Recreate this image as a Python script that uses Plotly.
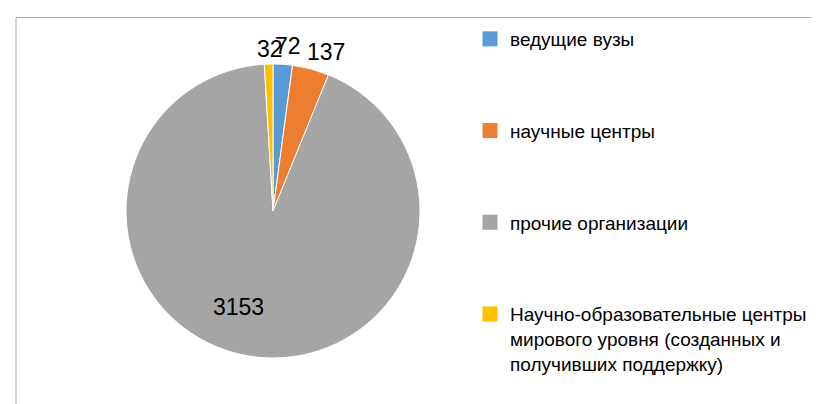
import plotly.graph_objects as go

categories = ["ведущие вузы", "научные центры", "прочие организации",
              "Научно-образовательные центры мирового уровня (созданных и получивших поддержку)"]
legend_names = ["ведущие вузы", "научные центры", "прочие организации",
                "Научно-образовательные центры<br>мирового уровня (созданных и<br>получивших поддержку)"]
values = [72, 137, 3153, 32]
colors = ["#5B9BD5", "#ED7D31", "#A5A5A5", "#FFC000"]

# label positions in pixels (x, y from top) for each value label
label_px = [(280, 38), (318, 44), (230, 299), (262, 41)]

W, H = 819, 404

fig = go.Figure()
fig.add_trace(go.Pie(
    labels=categories, values=values, sort=False, direction="clockwise", rotation=0,
    marker=dict(colors=colors, line=dict(color="white", width=1)),
    textinfo="none", showlegend=False, hoverinfo="label+value",
    domain=dict(x=[118 / W, 412 / W], y=[1 - 350 / H, 1 - 56 / H]),
))

for i, (name, c) in enumerate(zip(legend_names, colors)):
    fig.add_trace(go.Scatter(
        x=[None], y=[None], mode="markers", name=name, legendgroup=f"g{i}",
        marker=dict(symbol="square", size=15, color=c), showlegend=True,
    ))

for v, (px, py) in zip(values, label_px):
    fig.add_annotation(x=px / W, y=1 - py / H, xref="paper", yref="paper",
                       text=str(v), showarrow=False, xanchor="center", yanchor="middle",
                       font=dict(family="Liberation Sans, Arial, sans-serif", size=23, color="#000000"))

line_col = "#A6A6A6"
fig.add_shape(type="line", xref="paper", yref="paper", x0=8 / W, x1=1.05, y0=1 - 9.5 / H, y1=1 - 9.5 / H,
              line=dict(color=line_col, width=1))
fig.add_shape(type="line", xref="paper", yref="paper", x0=8 / W, x1=8 / W, y0=-0.05, y1=1 - 9.5 / H,
              line=dict(color=line_col, width=1))

fig.update_layout(
    width=W, height=H, margin=dict(l=0, r=0, t=0, b=0),
    paper_bgcolor="white", plot_bgcolor="white",
    xaxis=dict(visible=False), yaxis=dict(visible=False),
    legend=dict(x=462 / W, y=1 - 12 / H, xanchor="left", yanchor="top",
                tracegroupgap=64, valign="top", bgcolor="rgba(0,0,0,0)",
                font=dict(family="Liberation Sans, Arial, sans-serif", size=19, color="#000000")),
)

fig.write_html("out.html")
